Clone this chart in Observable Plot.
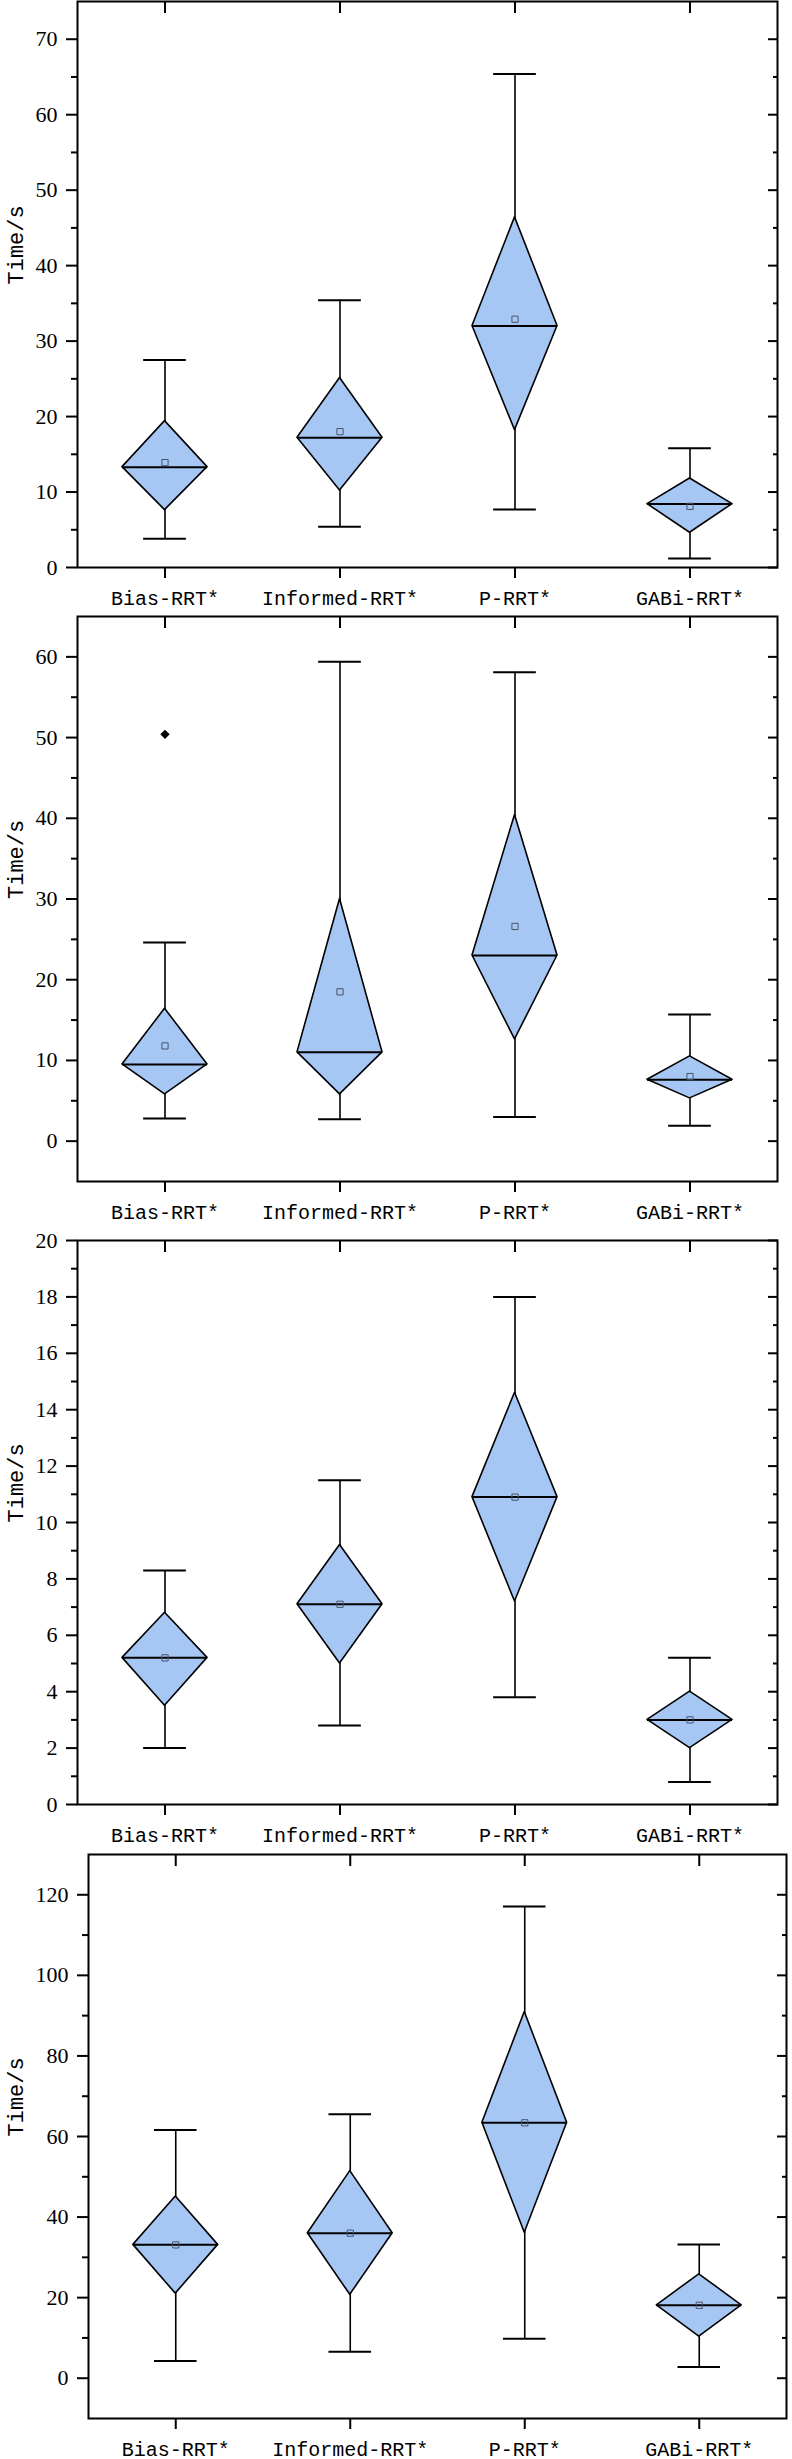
<!DOCTYPE html>
<html><head><meta charset="utf-8">
<script src="https://cdn.jsdelivr.net/npm/d3@7"></script>
<script src="https://cdn.jsdelivr.net/npm/@observablehq/plot@0.6"></script>
<style>
body{margin:0;background:#fff;width:792px;}
#charts svg{display:block;overflow:visible;background:transparent;}
</style></head><body><div id="charts"></div>
<script>
const categories = ["Bias-RRT*", "Informed-RRT*", "P-RRT*", "GABi-RRT*"];

// Panel 1
const p1Lower  = [3.8, 5.4, 7.7, 1.2];
const p1Q1     = [7.6, 10.2, 18.2, 4.6];
const p1Median = [13.3, 17.2, 32.0, 8.4];
const p1Q3     = [19.4, 25.1, 46.4, 11.8];
const p1Upper  = [27.5, 35.4, 65.4, 15.8];
const p1Mean   = [13.9, 18.0, 32.9, 8.1];
const p1Domain = [0, 75];
const p1Major  = [0, 10, 20, 30, 40, 50, 60, 70];
const p1Minor  = [5, 15, 25, 35, 45, 55, 65];

// Panel 2
const p2Lower  = [2.8, 2.7, 3.0, 1.9];
const p2Q1     = [5.8, 5.8, 12.6, 5.3];
const p2Median = [9.5, 11.0, 23.0, 7.6];
const p2Q3     = [16.4, 30.0, 40.4, 10.5];
const p2Upper  = [24.6, 59.4, 58.1, 15.7];
const p2Mean   = [11.8, 18.5, 26.6, 8.0];
const p2OutlierCat = ["Bias-RRT*"];
const p2OutlierVal = [50.4];
const p2Domain = [-5, 65];
const p2Major  = [0, 10, 20, 30, 40, 50, 60];
const p2Minor  = [5, 15, 25, 35, 45, 55];

// Panel 3
const p3Lower  = [2.0, 2.8, 3.8, 0.8];
const p3Q1     = [3.5, 5.0, 7.2, 2.0];
const p3Median = [5.2, 7.1, 10.9, 3.0];
const p3Q3     = [6.8, 9.2, 14.6, 4.0];
const p3Upper  = [8.3, 11.5, 18.0, 5.2];
const p3Mean   = [5.2, 7.1, 10.9, 3.0];
const p3Domain = [0, 20];
const p3Major  = [0, 2, 4, 6, 8, 10, 12, 14, 16, 18, 20];
const p3Minor  = [1, 3, 5, 7, 9, 11, 13, 15, 17, 19];

// Panel 4
const p4Lower  = [4.3, 6.6, 9.8, 2.8];
const p4Q1     = [21.0, 20.7, 36.1, 10.3];
const p4Median = [33.1, 36.0, 63.4, 18.1];
const p4Q3     = [45.1, 51.4, 90.9, 25.8];
const p4Upper  = [61.6, 65.5, 117.1, 33.2];
const p4Mean   = [33.1, 36.0, 63.4, 18.1];
const p4Domain = [-10, 130];
const p4Major  = [0, 20, 40, 60, 80, 100, 120];
const p4Minor  = [10, 30, 50, 70, 90, 110];

const yLabel = "Time/s";
const fillColor = "#a6c6f4";

function table(lo, q1, med, q3, up, mean) {
  return categories.map((c, i) => ({i, c, lo: lo[i], q1: q1[i], med: med[i], q3: q3[i], up: up[i], mean: mean[i]}));
}

const panels = [
  {rows: table(p1Lower, p1Q1, p1Median, p1Q3, p1Upper, p1Mean), domain: p1Domain, major: p1Major, minor: p1Minor, out: [],
   height: 614, mt: 1, mb: 47, ml: 77, mr: 15},
  {rows: table(p2Lower, p2Q1, p2Median, p2Q3, p2Upper, p2Mean), domain: p2Domain, major: p2Major, minor: p2Minor,
   out: p2OutlierCat.map((c, k) => ({i: categories.indexOf(c), v: p2OutlierVal[k]})),
   height: 616, mt: 2, mb: 49, ml: 77, mr: 15},
  {rows: table(p3Lower, p3Q1, p3Median, p3Q3, p3Upper, p3Mean), domain: p3Domain, major: p3Major, minor: p3Minor, out: [],
   height: 622, mt: 10, mb: 48, ml: 77, mr: 15},
  {rows: table(p4Lower, p4Q1, p4Median, p4Q3, p4Upper, p4Mean), domain: p4Domain, major: p4Major, minor: p4Minor, out: [],
   height: 607, mt: 2, mb: 41, ml: 88, mr: 6}
];

const HW = 0.243;   // diamond half width (band units)
const CW = 0.122;   // whisker cap half width
const idx = categories.map((c, i) => i);
const serif = "'Liberation Serif', 'DejaVu Serif', serif";
const mono = "'Liberation Mono', 'DejaVu Sans Mono', monospace";

const host = document.getElementById("charts");
for (const p of panels) {
  const pts = p.rows.flatMap(r => [
    {i: r.i, x: r.i - HW, y1: r.med, y2: r.med},
    {i: r.i, x: r.i, y1: r.q1, y2: r.q3},
    {i: r.i, x: r.i + HW, y1: r.med, y2: r.med}
  ]);
  const chart = Plot.plot({
    width: 792,
    height: p.height,
    marginTop: p.mt, marginBottom: p.mb, marginLeft: p.ml, marginRight: p.mr,
    style: {background: "transparent", color: "black", fontFamily: serif, overflow: "visible"},
    x: {type: "linear", domain: [-0.5, 3.5], axis: null},
    y: {type: "linear", domain: p.domain, axis: null},
    marks: [
      Plot.ruleX(p.rows, {x: "i", y1: "lo", y2: "up", stroke: "black", strokeWidth: 1.6}),
      Plot.ruleY(p.rows, {y: "up", x1: d => d.i - CW, x2: d => d.i + CW, stroke: "black", strokeWidth: 2}),
      Plot.ruleY(p.rows, {y: "lo", x1: d => d.i - CW, x2: d => d.i + CW, stroke: "black", strokeWidth: 2}),
      Plot.areaY(pts, {x: "x", y1: "y1", y2: "y2", z: "i", fill: fillColor, stroke: "black", strokeWidth: 1.6}),
      Plot.ruleY(p.rows, {y: "med", x1: d => d.i - HW, x2: d => d.i + HW, stroke: "black", strokeWidth: 2}),
      Plot.dot(p.rows, {x: "i", y: "mean", symbol: "square", r: 3.5, stroke: "#4a5468", strokeWidth: 1, fill: "none"}),
      Plot.dot(p.out, {x: "i", y: "v", symbol: "diamond2", r: 4.2, fill: "black", stroke: "none"}),
      // left axis
      Plot.axisY(p.major, {anchor: "left", tickSize: 11, tickPadding: 9, tickFormat: d => String(d), fontSize: 22, fontFamily: serif, label: null, strokeWidth: 2}),
      Plot.axisY(p.minor, {anchor: "left", tickSize: 6, tickFormat: () => "", label: null, strokeWidth: 2}),
      // right axis (inward)
      Plot.axisY(p.major, {anchor: "right", tickSize: 10, dx: -10, tickFormat: () => "", label: null, strokeWidth: 2}),
      Plot.axisY(p.minor, {anchor: "right", tickSize: 5, dx: -5, tickFormat: () => "", label: null, strokeWidth: 2}),
      // bottom axis
      Plot.axisX(idx, {anchor: "bottom", tickSize: 11, tickPadding: 12, tickFormat: i => categories[i], fontSize: 20, fontFamily: mono, label: null, strokeWidth: 2}),
      // top axis (inward)
      Plot.axisX(idx, {anchor: "top", tickSize: 11, dy: 11, tickFormat: () => "", label: null, strokeWidth: 2}),
      Plot.frame({stroke: "black", strokeWidth: 2}),
      Plot.text([yLabel], {frameAnchor: "left", dx: 15 - p.ml, rotate: -90, fontSize: 22, fontFamily: mono, fill: "black"})
    ]
  });
  host.appendChild(chart);
}
</script></body></html>
